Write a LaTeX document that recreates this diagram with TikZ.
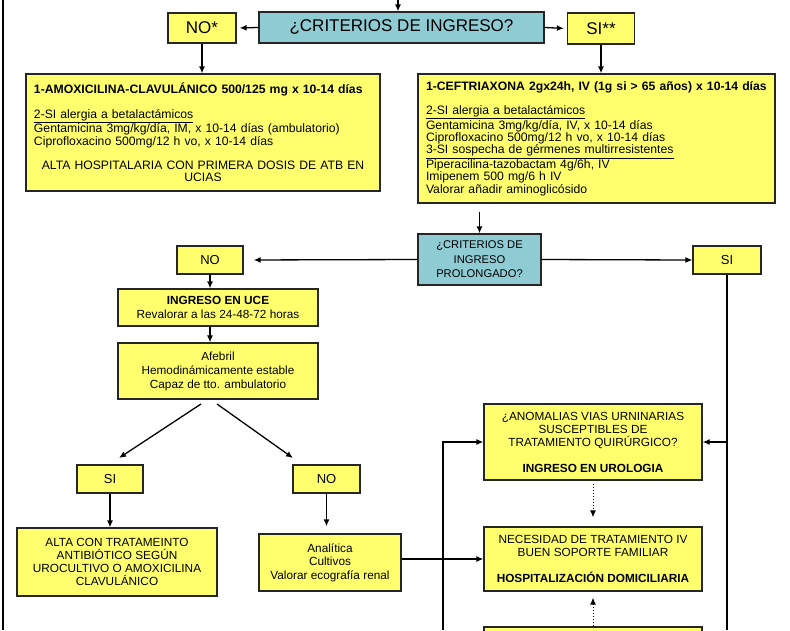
\documentclass[tikz,border=0pt]{standalone}
\usepackage{fontspec}
\setmainfont{Liberation Sans}
\usetikzlibrary{arrows.meta}
\definecolor{ybox}{HTML}{FFFF6E}
\definecolor{tbox}{HTML}{8FCBD2}
\begin{document}
\begin{tikzpicture}[x=1pt,y=-1pt,
  box/.style={draw=black!85, line width=1.3pt, fill=ybox, inner sep=0pt, align=center,
    font=\fontsize{11.8}{13.5}\selectfont},
  tealbox/.style={box, fill=tbox},
  bigtxt/.style={font=\fontsize{17}{20}\selectfont},
  midtxt/.style={font=\fontsize{13}{15}\selectfont},
  listtxt/.style={font=\fontsize{12.2}{12.4}\selectfont, align=left},
  arr/.style={-{Latex[length=7pt,width=6pt]}, line width=1.3pt},
  dotarr/.style={-{Latex[length=7pt,width=6pt]}, dotted, line width=1pt},
  plain/.style={line width=1.3pt}]
\useasboundingbox (0,0) rectangle (790,630);
\clip (0,0) rectangle (790,630);

% top row
\node[tealbox, bigtxt, minimum width=285pt, minimum height=31pt] (crit) at (401.5,27.5) {¿CRITERIOS DE INGRESO?};
\node[box, bigtxt, minimum width=68pt, minimum height=30pt] (nos) at (202,28) {NO*};
\node[box, bigtxt, minimum width=67pt, minimum height=31pt] (sis) at (601,28.5) {SI**};

% big boxes
\node[box, listtxt, minimum width=354pt, minimum height=117pt, text width=338pt] (L1) at (203,132.5) {%
{\bfseries 1-AMOXICILINA-CLAVULÁNICO 500/125 mg x 10-14 días}\\[12pt]
\underline{2-SI alergia a betalactámicos}\\
Gentamicina 3mg/kg/día, IM, x 10-14 días (ambulatorio)\\
Ciprofloxacino 500mg/12 h vo, x 10-14 días\\[12pt]
\makebox[338pt][c]{ALTA HOSPITALARIA CON PRIMERA DOSIS DE ATB EN}\\
\makebox[338pt][c]{UCIAS}};

\node[box, listtxt, minimum width=357pt, minimum height=129pt, text width=341pt] (R1) at (596.5,138.5) {%
{\bfseries 1-CEFTRIAXONA 2gx24h, IV (1g si > 65 años) x 10-14 días}\\[12pt]
\underline{2-SI alergia a betalactámicos}\\
Gentamicina 3mg/kg/día, IV, x 10-14 días\\
Ciprofloxacino 500mg/12 h vo, x 10-14 días\\
\underline{3-SI sospecha de gérmenes multirresistentes}\\
Piperacilina-tazobactam 4g/6h, IV\\
Imipenem 500 mg/6 h IV\\
Valorar añadir aminoglicósido};

% second decision
\node[tealbox, font=\fontsize{11.2}{14.5}\selectfont, minimum width=123pt, minimum height=51pt] (crit2) at (479.5,259.5) {¿CRITERIOS DE\\INGRESO\\PROLONGADO?};
\node[box, midtxt, minimum width=66pt, minimum height=28pt] (no2) at (210,260) {NO};
\node[box, midtxt, minimum width=68pt, minimum height=28pt] (si2) at (727,260) {SI};

% left branch
\node[box, minimum width=200pt, minimum height=37pt] (uce) at (218,307.5) {\textbf{INGRESO EN UCE}\\Revalorar a las 24-48-72 horas};
\node[box, font=\fontsize{11.8}{14}\selectfont, minimum width=200pt, minimum height=56pt] (afeb) at (218,371) {Afebril\\Hemodinámicamente estable\\Capaz de tto. ambulatorio};
\node[box, midtxt, minimum width=66pt, minimum height=28pt] (si3) at (110,479) {SI};
\node[box, midtxt, minimum width=67pt, minimum height=28pt] (no3) at (326.5,479) {NO};
\node[box, font=\fontsize{11.8}{13}\selectfont, minimum width=200pt, minimum height=68pt] (alta) at (117,562) {ALTA CON TRATAMEINTO\\ANTIBIÓTICO SEGÚN\\UROCULTIVO O AMOXICILINA\\CLAVULÁNICO};
\node[box, minimum width=142pt, minimum height=57pt] (anal) at (330,562.5) {Analítica\\Cultivos\\Valorar ecografía renal};

% right column
\node[box, font=\fontsize{11.8}{13}\selectfont, minimum width=218pt, minimum height=76pt] (anom) at (593,442) {¿ANOMALIAS VIAS URNINARIAS\\SUSCEPTIBLES DE\\TRATAMIENTO QUIRÚRGICO?\\[13pt]\textbf{INGRESO EN UROLOGIA}};
\node[box, font=\fontsize{11.8}{13}\selectfont, minimum width=218pt, minimum height=64pt] (nec) at (593,559) {NECESIDAD DE TRATAMIENTO IV\\BUEN SOPORTE FAMILIAR\\[13pt]\textbf{HOSPITALIZACIÓN DOMICILIARIA}};
\node[box, minimum width=218pt, minimum height=33pt] (bot) at (593,643.5) {};

% coordinates
\coordinate (top) at (398,0);
\coordinate (b1) at (3,0);
\coordinate (b2) at (3,630);
\coordinate (lb) at (443,630);
\coordinate (rb) at (727,630);
\coordinate (d1s) at (201,404);
\coordinate (d1e) at (119,458);
\coordinate (d2s) at (217,404);
\coordinate (d2e) at (293,458);

% connectors
\draw[plain] (b1) -- (b2);
\draw[arr] (top) -- (top |- crit.north);
\draw[arr, shorten >=3pt] (crit.west) -- (nos.east);
\draw[arr, shorten >=3pt] (crit.east) -- (sis.east -| sis.west);
\draw[arr] (nos.south) -- (nos.south |- L1.north);
\draw[arr] (sis.south) -- (sis.south |- R1.north);
\draw[arr, shorten <=8pt] (R1.south -| crit2.north) -- (crit2.north);
\draw[arr, shorten >=10pt] (crit2.west) -- (no2.east);
\draw[arr] (crit2.east) -- (si2.west);
\draw[arr] (no2.south) -- (no2.south |- uce.north);
\draw[arr] (uce.south -| no2.south) -- (afeb.north -| no2.south);
\draw[arr] (d1s) -- (d1e);
\draw[arr] (d2s) -- (d2e);
\draw[arr] (si3.south) -- (si3.south |- alta.north);
\draw[arr, shorten >=7pt] (no3.south) -- (no3.south |- anal.north);
\draw[arr] (nec.west -| anal.east) -- (nec.west);
\draw[arr] (lb) |- (anom.west);
\draw[plain] (si2.south) -- (rb);
\draw[arr] (si2.south |- anom.east) -- (anom.east);
\draw[dotarr, shorten <=3pt, shorten >=9pt] (anom.south) -- (nec.north);
\draw[dotarr, shorten >=6pt] (bot.north) -- (nec.south);
\end{tikzpicture}
\end{document}
